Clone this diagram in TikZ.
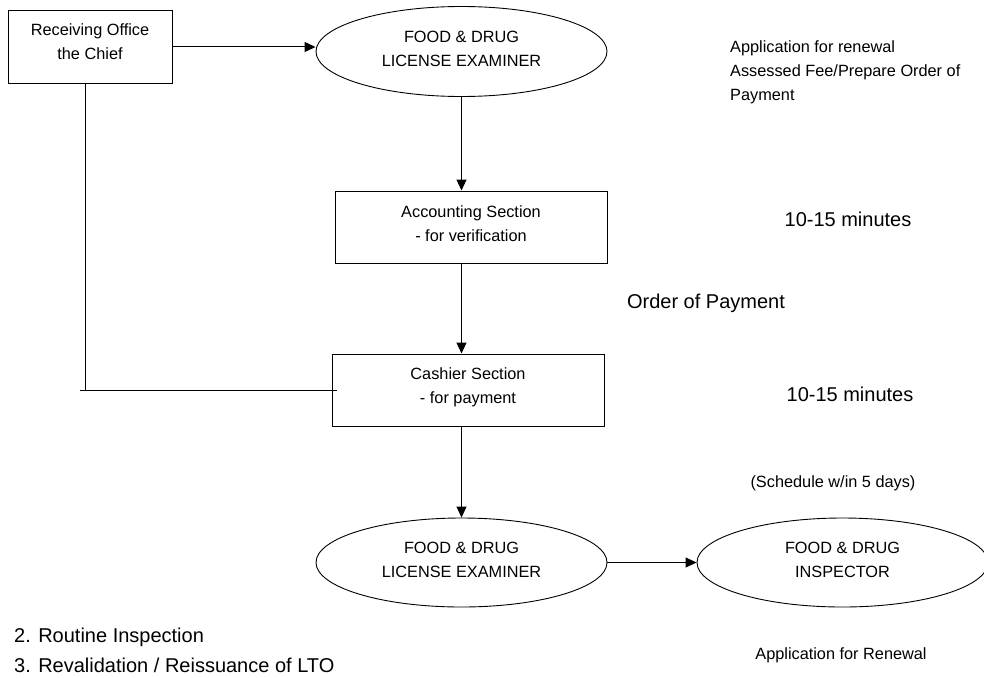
\documentclass[tikz,border=0pt]{standalone}
\usepackage{fontspec}
\setmainfont{Liberation Sans}
\usetikzlibrary{shapes.geometric,arrows.meta}
\begin{document}
\begin{tikzpicture}[x=1pt,y=-1pt,
  boxshape/.style={draw,line width=1pt,rectangle,inner sep=0pt},
  ellshape/.style={draw,line width=0.9pt,ellipse,inner sep=0pt,minimum width=291pt,minimum height=90pt},
  smalltext/.style={font=\fontsize{16.3pt}{24pt}\selectfont,inner sep=0pt,align=center},
  bigtext/.style={font=\fontsize{20pt}{28pt}\selectfont,inner sep=0pt},
  conn/.style={line width=1pt},
  arr/.style={line width=1pt,-{Triangle[length=11pt,width=10pt]}}]
\useasboundingbox (0,0) rectangle (984,677);
% shapes
\node[boxshape,minimum width=164pt,minimum height=72pt] (recv) at (90,47) {};
\node[ellshape] (e1) at (461.5,51.5) {};
\node[boxshape,minimum width=272pt,minimum height=72pt] (acc) at (471,227) {};
\node[boxshape,minimum width=272pt,minimum height=72pt] (cash) at (468,390) {};
\node[ellshape,minimum height=89pt] (e2) at (461.5,562.5) {};
\node[ellshape,minimum height=89pt] (e3) at (842.5,562.5) {};
% texts inside shapes
\node[smalltext] (trecv) at ([yshift=5pt]recv.center) {Receiving Office\\the Chief};
\node[smalltext] (te1) at ([yshift=3pt]e1.center) {FOOD \& DRUG\\LICENSE EXAMINER};
\node[smalltext] (tacc) at ([yshift=3pt]acc.center) {Accounting Section\\- for verification};
\node[smalltext] (tcash) at ([yshift=3pt]cash.center) {Cashier Section\\- for payment};
\node[smalltext] (te2) at ([yshift=2.5pt]e2.center) {FOOD \& DRUG\\LICENSE EXAMINER};
\node[smalltext] (te3) at ([yshift=2.5pt]e3.center) {FOOD \& DRUG\\INSPECTOR};
% connectors
\draw[arr] (recv.east) -- (recv.east -| e1.west);
\draw[arr] (e1.south) -- (e1.south |- acc.north);
\draw[arr] (e1.south |- acc.south) -- (e1.south |- cash.north);
\draw[arr] (e2.north |- cash.south) -- (e2.north);
\draw[arr] (e2.east) -- (e3.west);
\coordinate (lstart) at (80,390);
\draw[conn] ([xshift=-5pt]recv.south) -- ([xshift=-5pt]recv.south |- cash.west);
\draw[conn] (lstart) -- ([xshift=5pt]cash.west);
% free texts
\node[smalltext,align=left,anchor=west] (note1) at (730,72) {Application for renewal\\Assessed Fee/Prepare Order of\\Payment};
\node[bigtext] (t1015a) at (848,219) {10-15 minutes};
\node[bigtext] (torder) at (706,303) {Order of Payment};
\node[bigtext] (t1015b) at (850,394) {10-15 minutes};
\node[smalltext] (tsched) at (833,483) {(Schedule w/in 5 days)};
\node[smalltext] (tappren) at (841,655) {Application for Renewal};
\node[bigtext,anchor=west] (troutine) at (14,637) {2. Routine Inspection};
\node[bigtext,anchor=west] (treval) at (14,665) {3. Revalidation / Reissuance of LTO};
\end{tikzpicture}
\end{document}
